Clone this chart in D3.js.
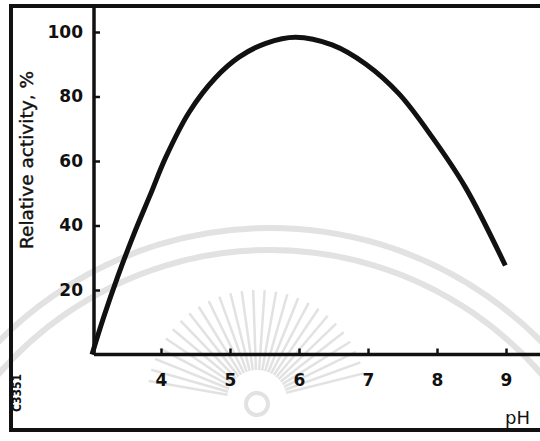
<!DOCTYPE html>
<html lang="en">
<head>
<meta charset="utf-8">
<script src="https://d3js.org/d3.v7.min.js"></script>
<style>
  body { margin: 0; background: #fff; }
  svg { display: block; }
</style>
</head>
<body>
<script>
// data
var phValues = [3.0, 3.17, 3.37, 3.61, 3.85, 4.07, 4.41, 4.79, 5.13, 5.52, 5.95, 6.48, 6.97, 7.45, 7.93, 8.41, 8.99];
var activity = [0, 11.6, 24, 37.5, 49.8, 61.2, 75.2, 85.8, 92.2, 96.5, 98.4, 96, 90, 80.8, 67.4, 51.9, 27.6];
var xTicks = [4, 5, 6, 7, 8, 9];
var yTicks = [20, 40, 60, 80, 100];

var w = 540, h = 441;
var ink = "#111";

var svg = d3.select("body").append("svg")
  .attr("width", w)
  .attr("height", h);

// faint watermark behind the chart
var wm = svg.append("g").attr("fill", "none").attr("stroke", "#e2e2e2");
[381, 359].forEach(function(r) {
  wm.append("path")
    .attr("stroke-width", 6)
    .attr("d", d3.arc()({innerRadius: r, outerRadius: r, startAngle: -Math.PI / 2.6, endAngle: Math.PI / 2.6}))
    .attr("transform", "translate(270,609)");
});
d3.range(-80, 81, 6).forEach(function(a) {
  var t = (a - 90) * Math.PI / 180;
  wm.append("line")
    .attr("stroke-width", 2.5)
    .attr("x1", 257 + 30 * Math.cos(t)).attr("y1", 400 + 30 * Math.sin(t))
    .attr("x2", 257 + 110 * Math.cos(t)).attr("y2", 400 + 110 * Math.sin(t));
});
wm.append("circle").attr("cx", 257).attr("cy", 404).attr("r", 11).attr("stroke-width", 4);

var x = d3.scaleLinear().domain([3, 10]).range([92, 92 + 7 * 69]);
var y = d3.scaleLinear().domain([0, 100]).range([354.5, 32]);

// outer frame
svg.append("path")
  .attr("d", "M560,6 H11 V430 H560")
  .attr("fill", "none")
  .attr("stroke", ink)
  .attr("stroke-width", 4);

// axes
var yAxis = d3.axisLeft(y).tickValues(yTicks).tickSize(-6).tickSizeOuter(0).tickPadding(11);
var xAxis = d3.axisBottom(x).tickValues(xTicks).tickFormat(d3.format("d"))
  .tickSize(-6).tickSizeOuter(0).tickPadding(19);

var gy = svg.append("g").attr("transform", "translate(94,0)").call(yAxis);
var gx = svg.append("g").attr("transform", "translate(0," + y(0) + ")").call(xAxis);

[gx, gy].forEach(function(g) {
  g.select(".domain").remove();
  g.selectAll(".tick line").attr("stroke", ink).attr("stroke-width", 2.5);
  g.selectAll(".tick text")
    .attr("fill", ink)
    .style("font-family", "DejaVu Sans")
    .style("font-weight", "bold")
    .style("font-size", "17px");
});

svg.append("line")
  .attr("x1", 94).attr("x2", 94)
  .attr("y1", 6).attr("y2", y(0))
  .attr("stroke", ink).attr("stroke-width", 3.5);
svg.append("line")
  .attr("x1", 94).attr("x2", 560)
  .attr("y1", y(0)).attr("y2", y(0))
  .attr("stroke", ink).attr("stroke-width", 3.5);

// activity curve
var line = d3.line()
  .x(function(d, i) { return x(phValues[i]); })
  .y(function(d) { return y(d); })
  .curve(d3.curveCatmullRom.alpha(0.5));

svg.append("path")
  .datum(activity)
  .attr("d", line)
  .attr("fill", "none")
  .attr("stroke", ink)
  .attr("stroke-width", 5)
  .attr("stroke-linecap", "butt");

// labels
svg.append("text")
  .attr("transform", "translate(33,160) rotate(-90)")
  .attr("text-anchor", "middle")
  .attr("fill", ink)
  .attr("stroke", ink)
  .attr("stroke-width", 0.4)
  .style("font-family", "DejaVu Sans")
  .style("font-size", "18.5px")
  .text("Relative activity, %");

svg.append("text")
  .attr("x", 505).attr("y", 424)
  .attr("fill", ink)
  .style("font-family", "DejaVu Sans")
  .style("font-size", "18px")
  .text("pH");

svg.append("text")
  .attr("transform", "translate(21,393) rotate(-90)")
  .attr("text-anchor", "middle")
  .attr("fill", ink)
  .style("font-family", "DejaVu Sans Condensed")
  .style("font-size", "12px")
  .style("font-weight", "bold")
  .text("C3351");
</script>
</body>
</html>
